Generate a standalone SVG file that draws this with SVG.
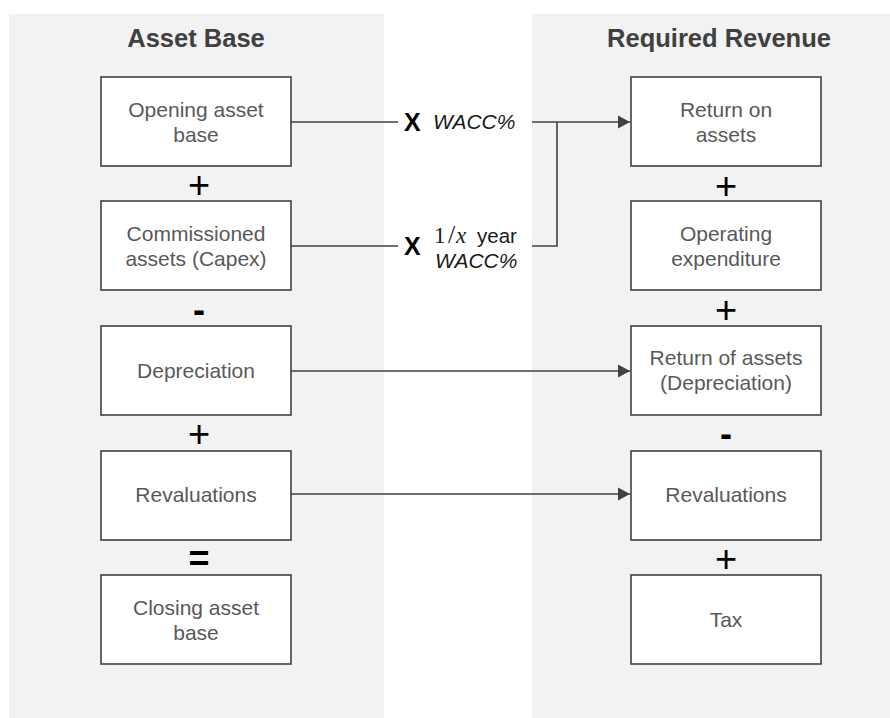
<svg xmlns="http://www.w3.org/2000/svg" width="890" height="718" viewBox="0 0 890 718">
<style>
.panel{fill:#f2f2f2}
.box{fill:#fff;stroke:#404040;stroke-width:1.6}
.title{font-family:"Liberation Sans",Arial,sans-serif;font-weight:bold;font-size:25.5px;fill:#404040;text-anchor:middle}
.t{font-family:"Liberation Sans",Arial,sans-serif;font-size:21px;fill:#595959;text-anchor:middle}
.op{font-family:"Liberation Sans",Arial,sans-serif;font-size:38px;fill:#000;text-anchor:middle}
.opb{font-family:"Liberation Sans",Arial,sans-serif;font-weight:bold;font-size:36px;fill:#000;text-anchor:middle}
.mx{font-family:"Liberation Sans",Arial,sans-serif;font-weight:bold;font-size:25px;fill:#000}
.m{font-family:"Liberation Sans",Arial,sans-serif;font-size:21px;fill:#1a1a1a}
.it{font-style:italic}
.ln{fill:none;stroke:#404040;stroke-width:1.6}
</style>
<defs>
<marker id="arr" markerWidth="14" markerHeight="14" refX="12" refY="7" orient="auto" markerUnits="userSpaceOnUse">
<path d="M0,0.5 L12,7 L0,13.5 Z" fill="#404040"/>
</marker>
</defs>
<rect class="panel" x="9" y="14" width="375" height="704"/>
<rect class="panel" x="532" y="14" width="358" height="704"/>
<text class="title" x="196" y="47">Asset Base</text>
<text class="title" x="719" y="47">Required Revenue</text>

<g id="opening">
<rect class="box" x="101" y="77" width="190" height="89"/>
<text class="t" x="196" y="117">Opening asset</text>
<text class="t" x="196" y="142">base</text>
</g>
<g id="commissioned">
<rect class="box" x="101" y="201" width="190" height="89"/>
<text class="t" x="196" y="241">Commissioned</text>
<text class="t" x="196" y="266">assets (Capex)</text>
</g>
<g id="depreciation">
<rect class="box" x="101" y="326" width="190" height="89"/>
<text class="t" x="196" y="378">Depreciation</text>
</g>
<g id="revaluations-l">
<rect class="box" x="101" y="451" width="190" height="89"/>
<text class="t" x="196" y="502">Revaluations</text>
</g>
<g id="closing">
<rect class="box" x="101" y="575" width="190" height="89"/>
<text class="t" x="196" y="615">Closing asset</text>
<text class="t" x="196" y="640">base</text>
</g>

<g id="return-on">
<rect class="box" x="631" y="77" width="190" height="89"/>
<text class="t" x="726" y="117">Return on</text>
<text class="t" x="726" y="142">assets</text>
</g>
<g id="opex">
<rect class="box" x="631" y="201" width="190" height="89"/>
<text class="t" x="726" y="241">Operating</text>
<text class="t" x="726" y="266">expenditure</text>
</g>
<g id="return-of">
<rect class="box" x="631" y="326" width="190" height="89"/>
<text class="t" x="726" y="365">Return of assets</text>
<text class="t" x="726" y="390">(Depreciation)</text>
</g>
<g id="revaluations-r">
<rect class="box" x="631" y="451" width="190" height="89"/>
<text class="t" x="726" y="502">Revaluations</text>
</g>
<g id="tax">
<rect class="box" x="631" y="575" width="190" height="89"/>
<text class="t" x="726" y="627">Tax</text>
</g>

<g id="operators">
<text class="op" x="199" y="198">+</text>
<text class="opb" x="199" y="321.5">-</text>
<text class="op" x="199" y="447">+</text>
<text class="opb" x="199" y="571">=</text>
<text class="op" x="726" y="198.5">+</text>
<text class="op" x="726" y="322.5">+</text>
<text class="opb" x="726" y="445.5">-</text>
<text class="op" x="726" y="571.5">+</text>
</g>

<g id="labels">
<text class="mx" x="404" y="131">X</text>
<text class="m it" x="433" y="129">WACC%</text>
<text class="mx" x="404" y="255">X</text>
<text y="243" font-family="'Liberation Serif','Times New Roman',serif" font-size="23" fill="#1a1a1a"><tspan x="434">1</tspan><tspan x="448" font-size="26">/</tspan><tspan x="456" font-style="italic">x</tspan></text>
<text class="m" x="477" y="243" style="font-size:20.5px">year</text>
<text class="m it" x="435" y="268">WACC%</text>
</g>

<g id="connectors">
<path class="ln" d="M291,122 H398"/>
<path class="ln" d="M532,122 H630" marker-end="url(#arr)"/>
<path class="ln" d="M291,246 H398"/>
<path class="ln" d="M532,246 H557 V122"/>
<path class="ln" d="M291,371 H630" marker-end="url(#arr)"/>
<path class="ln" d="M291,494 H630" marker-end="url(#arr)"/>
</g>
</svg>
